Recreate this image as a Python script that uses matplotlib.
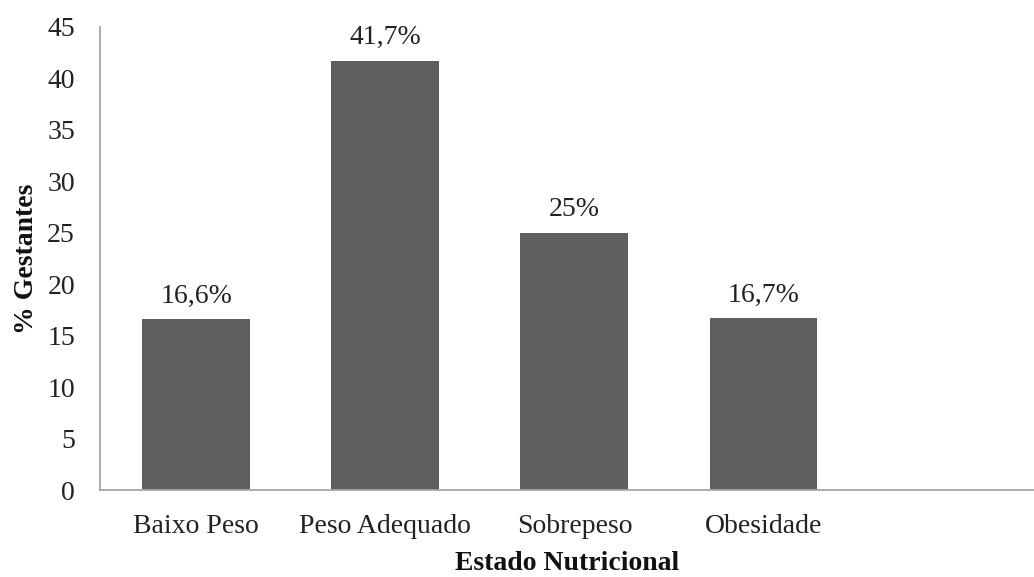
import matplotlib
matplotlib.use("Agg")
import matplotlib.pyplot as plt

categories = ["Baixo Peso", "Peso Adequado", "Sobrepeso", "Obesidade"]
values = [16.6, 41.7, 25.0, 16.7]
labels = ["16,6%", "41,7%", "25%", "16,7%"]
yticks = [0, 5, 10, 15, 20, 25, 30, 35, 40, 45]

plt.rcParams['font.family'] = ['Liberation Serif', 'DejaVu Serif']

W, H = 1034, 577
FS = 20
fig = plt.figure(figsize=(W / 100, H / 100), dpi=100)
ax = fig.add_axes([100 / W, 1 - 490 / H, (W - 100) / W, (490 - 27) / H])

x = list(range(len(categories)))
ax.bar(x, values, width=0.57, color="#5f5f5f", zorder=2)
for xi, v, lab in zip(x, values, labels):
    ax.annotate(lab, (xi, v), xytext=(0, 12), textcoords="offset points",
                ha="center", va="baseline", fontsize=FS, color="#222222")

ax.set_xlim(-0.508, 4.43)
ax.set_ylim(0, 45)
ax.set_yticks(yticks)
ax.set_yticklabels([str(t) for t in yticks])
ax.set_xticks(x)
ax.set_xticklabels(categories)
ax.tick_params(axis="both", length=0, labelsize=FS, colors="#222222")
ax.tick_params(axis="y", pad=18)
ax.tick_params(axis="x", pad=17)

for s in ["top", "right"]:
    ax.spines[s].set_visible(False)
for s in ["left", "bottom"]:
    ax.spines[s].set_color("#a6a6a6")
    ax.spines[s].set_linewidth(1.3)
ax.spines["bottom"].set_zorder(3)

ax.set_xlabel("Estado Nutricional", fontsize=FS, fontweight="bold", labelpad=9, color="#111111")
ax.set_ylabel("% Gestantes", fontsize=FS, fontweight="bold", labelpad=6, color="#111111")

fig.savefig("out.png", dpi=100)
